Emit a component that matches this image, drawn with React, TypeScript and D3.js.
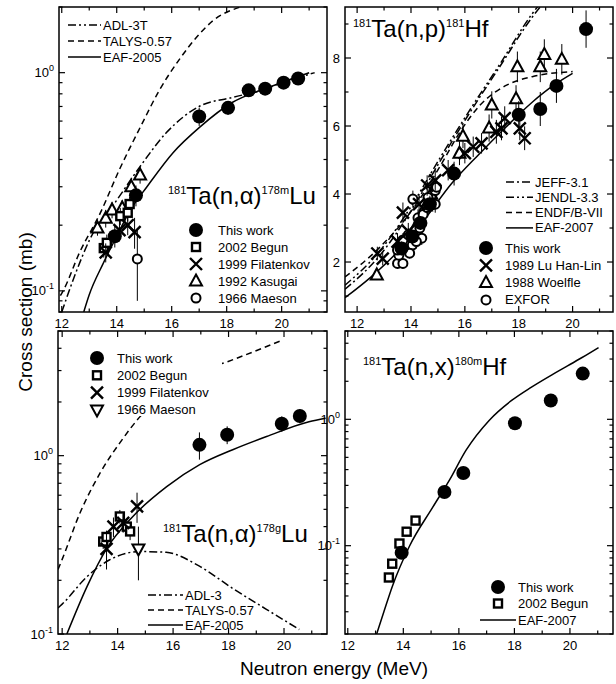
import React, { useEffect, useRef } from "react";
import * as d3 from "d3";

type Pt = [number, number];

const FONT = "'Liberation Sans', Arial, Helvetica, sans-serif";

// ---------- top left: 181Ta(n,alpha)178mLu ----------
const tlThisWork: Pt[] = [[13.93, 0.178], [14.7, 0.274], [17.0, 0.63], [18.05, 0.69], [18.8, 0.83], [19.4, 0.845], [20.07, 0.9], [20.6, 0.94]];
const tlThisWorkErr = [0.02, 0.03, 0.06, 0.05, 0.05, 0.05, 0.05, 0.05];
const tlBegun: Pt[] = [[13.53, 0.157], [13.64, 0.166], [14.13, 0.22], [14.4, 0.228], [14.47, 0.25]];
const tlBegunErr = [0.015, 0.015, 0.02, 0.02, 0.02];
const tlFilatenkov: Pt[] = [[13.6, 0.15], [14.1, 0.19], [14.4, 0.2], [14.65, 0.186]];
const tlFilatenkovErr = [0.015, 0.02, 0.02, 0.03];
const tlKasugai: Pt[] = [[13.3, 0.194], [13.6, 0.215], [13.83, 0.235], [14.2, 0.24], [14.53, 0.3], [14.85, 0.34]];
const tlKasugaiErr = [0.015, 0.02, 0.02, 0.02, 0.03, 0.03];
const tlMaeson: Pt[] = [[14.75, 0.14]];
const tlMaesonErr = [0.05];
const tlEaf: Pt[] = [[12.8, 0.08], [13.0, 0.096], [13.5, 0.133], [13.93, 0.171], [14.5, 0.235], [15.1, 0.3], [16.05, 0.43], [17.0, 0.56], [18.2, 0.73], [19.45, 0.85], [20.3, 0.93], [21.0, 1.0]];
const tlAdl: Pt[] = [[12.0, 0.08], [12.5, 0.12], [13.0, 0.17], [14.0, 0.26], [14.84, 0.37], [15.8, 0.53], [17.0, 0.7], [18.2, 0.77], [19.4, 0.84], [20.0, 0.9], [20.6, 0.95], [21.2, 1.0]];
const tlTalys: Pt[] = [[11.95, 0.095], [12.05, 0.1], [12.65, 0.15], [13.4, 0.227], [14.1, 0.36], [14.85, 0.56], [15.55, 0.83], [16.3, 1.16], [17.0, 1.5], [17.5, 1.73], [18.5, 2.0]];

// ---------- top right: 181Ta(n,p)181Hf ----------
const trThisWork: Pt[] = [[13.65, 2.4], [14.05, 2.75], [14.35, 3.15], [14.7, 3.7], [15.6, 4.6], [18.0, 6.33], [18.8, 6.5], [19.4, 7.18], [20.5, 8.85]];
const trThisWorkErr = [0.2, 0.2, 0.2, 0.25, 0.35, 0.4, 0.5, 0.5, 0.55];
const trLuHanLin: Pt[] = [[12.75, 2.25], [12.95, 2.1], [13.5, 2.6], [13.7, 3.45], [13.9, 2.9], [14.3, 3.7], [14.6, 4.25], [14.9, 4.4], [15.38, 4.7], [16.0, 5.2], [16.31, 5.39], [16.62, 5.49], [17.17, 5.83], [17.36, 5.93], [17.48, 6.23], [18.04, 5.93], [18.22, 5.64]];
const trLuHanLinErr = [0.2, 0.2, 0.25, 0.3, 0.25, 0.3, 0.3, 0.3, 0.3, 0.3, 0.3, 0.3, 0.35, 0.35, 0.35, 0.35, 0.35];
const trWoelfle: Pt[] = [[12.73, 1.62], [13.6, 2.5], [14.15, 3.0], [14.55, 3.65], [14.75, 4.0], [15.8, 5.2], [15.93, 5.7], [16.9, 5.94], [17.0, 6.62], [17.9, 6.8], [17.95, 7.74], [18.8, 7.74], [18.95, 8.1], [19.6, 7.96]];
const trWoelfleErr = [0.15, 0.2, 0.25, 0.3, 0.3, 0.35, 0.35, 0.4, 0.4, 0.4, 0.45, 0.45, 0.45, 0.45];
const trExfor: Pt[] = [[13.5, 1.96], [13.7, 1.96], [13.55, 2.2], [13.5, 2.35], [13.7, 2.65], [13.9, 2.8], [14.05, 2.5], [13.95, 2.26], [14.07, 3.85], [14.26, 3.3], [14.33, 3.0], [14.45, 3.4], [14.6, 3.6], [14.63, 3.9], [14.9, 3.7], [14.9, 4.1], [14.95, 4.2], [14.4, 2.7], [14.2, 2.6]];
const trExforErr = [0.15, 0.15, 0.15, 0.15, 0.2, 0.2, 0.2, 0.15, 0.25, 0.25, 0.2, 0.25, 0.25, 0.25, 0.25, 0.25, 0.25, 0.2, 0.2];
const trEaf: Pt[] = [[11.55, 0.95], [12.5, 1.55], [13.5, 2.3], [14.5, 3.25], [15.5, 4.3], [16.5, 5.15], [17.5, 5.95], [18.5, 6.7], [19.3, 7.2], [20.0, 7.55]];
const trEndf: Pt[] = [[11.55, 1.56], [12.85, 2.44], [13.96, 3.44], [15.07, 4.8], [15.8, 5.8], [16.55, 6.6], [17.55, 7.2], [18.5, 7.45], [20.0, 7.6]];
const trJeff: Pt[] = [[11.55, 1.2], [12.85, 2.2], [13.96, 3.45], [15.07, 4.95], [16.07, 6.25], [17.3, 7.75], [18.5, 9.2], [18.95, 9.65]];
const trJendl: Pt[] = [[11.55, 1.32], [12.85, 2.33], [13.96, 3.58], [15.07, 5.05], [16.07, 6.33], [17.3, 7.82], [18.5, 9.3], [18.9, 9.7]];

// ---------- bottom left: 181Ta(n,alpha)178gLu ----------
const blThisWork: Pt[] = [[16.95, 1.15], [17.95, 1.31], [19.92, 1.51], [20.57, 1.67]];
const blThisWorkErr = [0.2, 0.15, 0.15, 0.15];
const blBegun: Pt[] = [[13.48, 0.33], [13.6, 0.35], [14.08, 0.456], [14.33, 0.4], [14.45, 0.376]];
const blBegunErr = [0.03, 0.03, 0.04, 0.04, 0.04];
const blFilatenkov: Pt[] = [[13.6, 0.3], [13.85, 0.4], [14.2, 0.42], [14.7, 0.52]];
const blFilatenkovErr = [0.07, 0.05, 0.05, 0.1];
const blMaeson: Pt[] = [[14.75, 0.3]];
const blMaesonErr = [0.1];
const blEaf: Pt[] = [[12.17, 0.1], [12.9, 0.185], [13.6, 0.3], [14.55, 0.456], [15.77, 0.67], [16.96, 0.89], [18.15, 1.08], [19.37, 1.28], [20.9, 1.55], [21.5, 1.62]];
const blAdl: Pt[] = [[11.85, 0.14], [12.0, 0.147], [12.9, 0.21], [13.7, 0.26], [14.8, 0.29], [15.75, 0.287], [16.95, 0.24], [18.15, 0.18], [19.35, 0.138], [20.55, 0.106]];
const blTalys: Pt[] = [[11.85, 0.23], [12.0, 0.262], [12.65, 0.48], [13.37, 0.8], [14.08, 1.18], [14.8, 1.65], [15.6, 2.2], [16.5, 2.8], [17.93, 3.35], [19.95, 4.45]];

// ---------- bottom right: 181Ta(n,x)180mHf ----------
const brThisWork: Pt[] = [[13.94, 0.088], [15.48, 0.266], [16.16, 0.376], [18.02, 0.93], [19.31, 1.41], [20.46, 2.3]];
const brThisWorkErr = [0.006, 0.015, 0.02, 0.05, 0.07, 0.12];
const brBegun: Pt[] = [[13.48, 0.056], [13.6, 0.072], [13.86, 0.104], [14.12, 0.129], [14.44, 0.158]];
const brBegunErr = [0.004, 0.006, 0.008, 0.008, 0.01];
const brEaf: Pt[] = [[13.04, 0.02], [13.3, 0.03], [13.61, 0.048], [14.22, 0.099], [15.05, 0.2], [15.66, 0.33], [16.26, 0.57], [17.09, 0.98], [17.9, 1.41], [18.6, 1.79], [19.35, 2.25], [19.85, 2.6], [20.42, 3.07], [21.03, 3.7]];

// legends
const tlLines = ["ADL-3T", "TALYS-0.57", "EAF-2005"];
const tlMarks = ["This work", "2002 Begun", "1999 Filatenkov", "1992 Kasugai", "1966 Maeson"];
const trLines = ["JEFF-3.1", "JENDL-3.3", "ENDF/B-VII", "EAF-2007"];
const trMarks = ["This work", "1989 Lu Han-Lin", "1988 Woelfle", "EXFOR"];
const blMarks = ["This work", "2002 Begun", "1999 Filatenkov", "1966 Maeson"];
const blLines = ["ADL-3", "TALYS-0.57", "EAF-2005"];
const brMarks = ["This work", "2002 Begun"];

type Marker = "disc" | "square" | "cross" | "tri" | "tridown" | "ring";
type Dash = "solid" | "dash" | "dashdot" | "dashdotdot";

const dashes: Record<Dash, string> = {
    solid: "none",
    dash: "6,4",
    dashdot: "8,3,2,3",
    dashdotdot: "8,3,2,3,2,3",
};

interface PanelCfg {
    id: string;
    xDom: [number, number];
    yDom: [number, number];
    log: boolean;
    left: number;
    right: number;
    top: number;
    bottom: number;
}

type Sel = d3.Selection<SVGGElement, unknown, null, undefined>;

function drawMarker(g: Sel, type: Marker, cx: number, cy: number) {
    const m = g.append("g").attr("transform", `translate(${cx},${cy})`);
    if (type === "disc") {
        m.append("circle").attr("r", 7).attr("fill", "#000");
    } else if (type === "square") {
        m.append("rect").attr("x", -4).attr("y", -4).attr("width", 8).attr("height", 8)
            .attr("fill", "#fff").attr("stroke", "#000").attr("stroke-width", 2.4);
    } else if (type === "cross") {
        m.append("path").attr("d", "M-6,-6L6,6M-6,6L6,-6").attr("stroke", "#000").attr("stroke-width", 2.4);
    } else if (type === "tri") {
        m.append("path").attr("d", "M0,-6.5L6,4.5L-6,4.5Z").attr("fill", "#fff")
            .attr("stroke", "#000").attr("stroke-width", 2).attr("stroke-linejoin", "miter");
    } else if (type === "tridown") {
        m.append("path").attr("d", "M0,6.5L6,-4.5L-6,-4.5Z").attr("fill", "#fff")
            .attr("stroke", "#000").attr("stroke-width", 2);
    } else {
        m.append("circle").attr("r", 4.5).attr("fill", "#fff").attr("stroke", "#000").attr("stroke-width", 2);
    }
}

function setupPanel(svg: d3.Selection<SVGSVGElement, unknown, null, undefined>, p: PanelCfg) {
    const g = svg.append("g") as unknown as Sel;
    const x = d3.scaleLinear().domain(p.xDom).range([p.left, p.right]);
    const y = p.log
        ? d3.scaleLog().domain(p.yDom).range([p.bottom, p.top])
        : d3.scaleLinear().domain(p.yDom).range([p.bottom, p.top]);

    svg.select("defs").append("clipPath").attr("id", `clip-${p.id}`)
        .append("rect").attr("x", p.left).attr("y", p.top)
        .attr("width", p.right - p.left).attr("height", p.bottom - p.top);

    const plot = g.append("g").attr("clip-path", `url(#clip-${p.id})`) as unknown as Sel;
    return { g, plot, x, y };
}

function drawAxes(g: Sel, p: PanelCfg, x: d3.ScaleLinear<number, number>, y: any) {
    const ax = g.append("g").attr("stroke", "#000").attr("stroke-width", 1.2);
    // x ticks
    for (let t = Math.ceil(p.xDom[0]); t <= p.xDom[1]; t++) {
        const major = t % 2 === 0;
        const len = major ? 6 : 3.5;
        const px = x(t);
        ax.append("line").attr("x1", px).attr("x2", px).attr("y1", p.bottom).attr("y2", p.bottom - len);
        ax.append("line").attr("x1", px).attr("x2", px).attr("y1", p.top).attr("y2", p.top + len);
        if (major) {
            g.append("text").attr("x", px).attr("y", p.bottom + 16).attr("text-anchor", "middle")
                .attr("font-size", 13).attr("font-family", FONT).text(t);
        }
    }
    // y ticks
    const yt: { v: number; major: boolean; label?: string; exp?: string }[] = [];
    if (p.log) {
        const d0 = Math.floor(Math.log10(p.yDom[0]));
        const d1 = Math.ceil(Math.log10(p.yDom[1]));
        for (let d = d0; d <= d1; d++) {
            for (let k = 1; k <= 9; k++) {
                const v = k * Math.pow(10, d);
                if (v < p.yDom[0] * 0.999 || v > p.yDom[1] * 1.001) continue;
                yt.push({ v, major: k === 1, label: "10", exp: String(d) });
            }
        }
    } else {
        for (let t = Math.ceil(p.yDom[0]); t <= p.yDom[1]; t++) {
            yt.push({ v: t, major: t % 2 === 0, label: String(t) });
        }
    }
    yt.forEach((t) => {
        const py = y(t.v);
        const len = t.major ? 6 : 3.5;
        ax.append("line").attr("x1", p.left).attr("x2", p.left + len).attr("y1", py).attr("y2", py);
        ax.append("line").attr("x1", p.right).attr("x2", p.right - len).attr("y1", py).attr("y2", py);
        if (t.major) {
            const tx = g.append("text").attr("x", p.left - 5).attr("y", py + 4.5).attr("text-anchor", "end")
                .attr("font-size", 13).attr("font-family", FONT);
            if (p.log) {
                tx.append("tspan").text(t.label!);
                tx.append("tspan").attr("font-size", 9).attr("dy", -6).text(t.exp!);
            } else {
                tx.text(t.label!);
            }
        }
    });
    g.append("rect").attr("x", p.left).attr("y", p.top).attr("width", p.right - p.left)
        .attr("height", p.bottom - p.top).attr("fill", "none").attr("stroke", "#000").attr("stroke-width", 1.5);
}

function drawCurve(g: Sel, x: any, y: any, pts: Pt[], dash: Dash) {
    const line = d3.line<Pt>().x((d) => x(d[0])).y((d) => y(d[1])).curve(d3.curveMonotoneX);
    g.append("path").attr("d", line(pts)).attr("fill", "none").attr("stroke", "#000")
        .attr("stroke-width", 1.5).attr("stroke-dasharray", dashes[dash]);
}

function drawSeries(g: Sel, x: any, y: any, pts: Pt[], err: number[], type: Marker, log: boolean) {
    pts.forEach((d, i) => {
        const e = err[i] || 0;
        const lo = log ? Math.max(d[1] - e, 1e-4) : d[1] - e;
        g.append("line").attr("x1", x(d[0])).attr("x2", x(d[0]))
            .attr("y1", y(lo)).attr("y2", y(d[1] + e)).attr("stroke", "#000").attr("stroke-width", 1);
    });
    pts.forEach((d) => drawMarker(g, type, x(d[0]), y(d[1])));
}

function lineLegend(g: Sel, labels: string[], styles: Dash[], x0: number, x1: number, y0: number, dy: number, bg?: boolean) {
    labels.forEach((lab, i) => {
        const yy = y0 + i * dy;
        g.append("line").attr("x1", x0).attr("x2", x1).attr("y1", yy).attr("y2", yy)
            .attr("stroke", "#000").attr("stroke-width", 1.5).attr("stroke-dasharray", dashes[styles[i]]);
        g.append("text").attr("x", x1 + 2).attr("y", yy + 4.5).attr("font-size", 13)
            .attr("font-family", FONT).text(lab);
    });
}

function markLegend(g: Sel, labels: string[], types: Marker[], xs: number, xl: number, y0: number, dy: number) {
    labels.forEach((lab, i) => {
        const yy = y0 + i * dy;
        drawMarker(g, types[i], xs, yy);
        g.append("text").attr("x", xl).attr("y", yy + 4.5).attr("font-size", 13)
            .attr("font-family", FONT).text(lab);
    });
}

function title(g: Sel, x: number, y: number, pre: string, main: string, sup: string, end: string) {
    const t = g.append("text").attr("x", x).attr("y", y).attr("font-family", FONT);
    t.append("tspan").attr("font-size", 11).attr("dy", -10).text(pre);
    t.append("tspan").attr("font-size", 24).attr("dy", 10).text(main);
    t.append("tspan").attr("font-size", 11).attr("dy", -10).text(sup);
    t.append("tspan").attr("font-size", 24).attr("dy", 10).text(end);
}

const panels: Record<string, PanelCfg> = {
    tl: { id: "tl", xDom: [11.9, 21.65], yDom: [0.08, 2], log: true, left: 59, right: 327, top: 7, bottom: 312 },
    tr: { id: "tr", xDom: [11.55, 21.5], yDom: [0.53, 9.5], log: false, left: 345, right: 613, top: 7, bottom: 312 },
    bl: { id: "bl", xDom: [11.85, 21.55], yDom: [0.1, 5], log: true, left: 58, right: 327, top: 331, bottom: 634 },
    br: { id: "br", xDom: [11.9, 21.55], yDom: [0.02, 5], log: true, left: 345, right: 613, top: 331, bottom: 634 },
};

export default function App() {
    const svgRef = useRef<SVGSVGElement | null>(null);

    useEffect(() => {
        if (!svgRef.current) return;
        const svg = d3.select(svgRef.current);
        svg.selectAll("*").remove();
        svg.append("defs");
        svg.append("rect").attr("width", 616).attr("height", 684).attr("fill", "#fff");

        // top left
        {
            const p = panels.tl;
            const { g, plot, x, y } = setupPanel(svg, p);
            drawCurve(plot, x, y, tlTalys, "dash");
            drawCurve(plot, x, y, tlAdl, "dashdot");
            drawCurve(plot, x, y, tlEaf, "solid");
            drawSeries(plot, x, y, tlKasugai, tlKasugaiErr, "tri", true);
            drawSeries(plot, x, y, tlBegun, tlBegunErr, "square", true);
            drawSeries(plot, x, y, tlFilatenkov, tlFilatenkovErr, "cross", true);
            drawSeries(plot, x, y, tlMaeson, tlMaesonErr, "ring", true);
            drawSeries(plot, x, y, tlThisWork, tlThisWorkErr, "disc", true);
            drawAxes(g, p, x, y);
            lineLegend(g, tlLines, ["dashdotdot", "dash", "solid"], 68, 101, 25, 16);
            markLegend(g, tlMarks, ["disc", "square", "cross", "tri", "ring"], 196, 218, 230, 17);
            title(g, 168, 204, "181", "Ta(n,α)", "178m", "Lu");
        }
        // top right
        {
            const p = panels.tr;
            const { g, plot, x, y } = setupPanel(svg, p);
            drawCurve(plot, x, y, trJendl, "dashdotdot");
            drawCurve(plot, x, y, trJeff, "dashdot");
            drawCurve(plot, x, y, trEndf, "dash");
            drawCurve(plot, x, y, trEaf, "solid");
            drawSeries(plot, x, y, trWoelfle, trWoelfleErr, "tri", false);
            drawSeries(plot, x, y, trExfor, trExforErr, "ring", false);
            drawSeries(plot, x, y, trLuHanLin, trLuHanLinErr, "cross", false);
            drawSeries(plot, x, y, trThisWork, trThisWorkErr, "disc", false);
            drawAxes(g, p, x, y);
            lineLegend(g, trLines, ["dashdot", "dashdotdot", "dash", "solid"], 506, 533, 182, 15.3);
            markLegend(g, trMarks, ["disc", "cross", "tri", "ring"], 486, 505, 248, 17.3);
            title(g, 353, 37, "181", "Ta(n,p)", "181", "Hf");
        }
        // bottom left
        {
            const p = panels.bl;
            const { g, plot, x, y } = setupPanel(svg, p);
            drawCurve(plot, x, y, blTalys, "dash");
            drawCurve(plot, x, y, blAdl, "dashdot");
            drawCurve(plot, x, y, blEaf, "solid");
            drawSeries(plot, x, y, blBegun, blBegunErr, "square", true);
            drawSeries(plot, x, y, blFilatenkov, blFilatenkovErr, "cross", true);
            drawSeries(plot, x, y, blMaeson, blMaesonErr, "tridown", true);
            drawSeries(plot, x, y, blThisWork, blThisWorkErr, "disc", true);
            drawAxes(g, p, x, y);
            g.append("rect").attr("x", 86).attr("y", 348).attr("width", 136).attr("height", 68).attr("fill", "#fff");
            markLegend(g, blMarks, ["disc", "square", "cross", "tridown"], 97, 117, 358, 17.3);
            lineLegend(g, blLines, ["dashdot", "dash", "solid"], 148, 183, 595, 15);
            title(g, 163, 542, "181", "Ta(n,α)", "178g", "Lu");
        }
        // bottom right
        {
            const p = panels.br;
            const { g, plot, x, y } = setupPanel(svg, p);
            drawCurve(plot, x, y, brEaf, "solid");
            drawSeries(plot, x, y, brBegun, brBegunErr, "square", true);
            drawSeries(plot, x, y, brThisWork, brThisWorkErr, "disc", true);
            drawAxes(g, p, x, y);
            markLegend(g, brMarks, ["disc", "square"], 498, 518, 587, 16.5);
            lineLegend(g, ["EAF-2007"], ["solid"], 480, 516, 620, 16);
            title(g, 363, 375, "181", "Ta(n,x)", "180m", "Hf");
        }

        svg.append("text").attr("x", 334).attr("y", 675).attr("text-anchor", "middle")
            .attr("font-size", 19).attr("font-family", FONT).text("Neutron energy (MeV)");
        svg.append("text").attr("transform", "translate(32,312) rotate(-90)").attr("text-anchor", "middle")
            .attr("font-size", 19).attr("font-family", FONT).text("Cross section (mb)");
    }, []);

    return (
        <div style={{ position: "absolute", left: 0, top: 0 }}>
            <svg ref={svgRef} width={616} height={684} style={{ display: "block" }} />
        </div>
    );
}
